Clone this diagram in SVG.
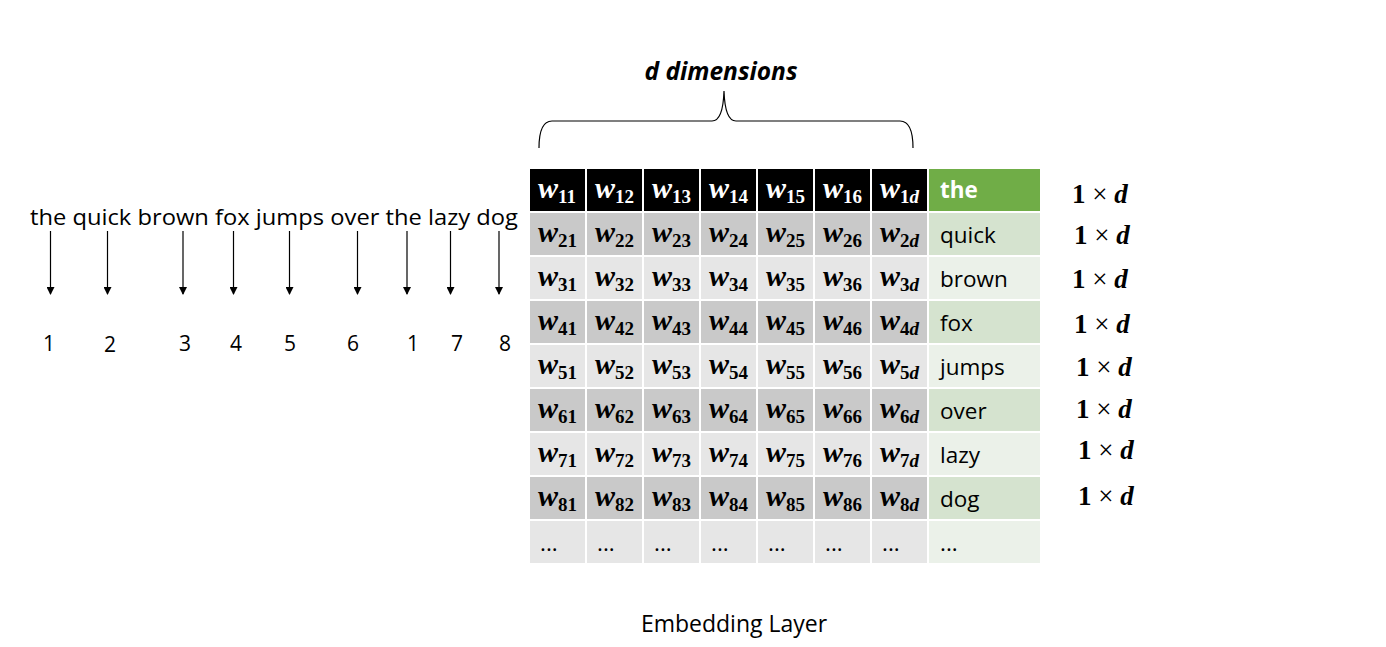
<svg xmlns="http://www.w3.org/2000/svg" width="1386" height="647" viewBox="0 0 1386 647">
<style>
.sent{font-family:"Open Sans","Liberation Sans",sans-serif;font-size:21px;fill:#000}
.num{font-family:"Open Sans","Liberation Sans",sans-serif;font-size:21px;fill:#000;text-anchor:middle}
.w{font-family:"Liberation Serif","DejaVu Serif",serif;font-size:30px;font-weight:bold;font-style:italic}
.sub{font-size:19px;font-style:normal}
.subd{font-size:19px;font-style:italic}
.word{font-family:"Open Sans","Liberation Sans",sans-serif;font-size:22.5px;fill:#000}
.dim{font-family:"Liberation Serif","DejaVu Serif",serif;font-size:27px;font-weight:bold;fill:#000}
.x{font-weight:normal}
.hd{fill:#000}
.g1{fill:#C9C9C9}
.g2{fill:#E6E6E6}
.n1{fill:#D5E3CF}
.n2{fill:#EBF1E9}
.arrow{stroke:#000;stroke-width:1.2;fill:none}
</style>
<defs>
<marker id="ah" markerWidth="8" markerHeight="8" refX="7" refY="4" orient="auto" markerUnits="userSpaceOnUse">
<path d="M0,0 L8,4 L0,8 Z" fill="#000"/>
</marker>
</defs>
<rect width="1386" height="647" fill="#fff"/>

<g id="sentence">
<text class="sent" x="30" y="225" textLength="488" lengthAdjust="spacingAndGlyphs">the quick brown fox jumps over the lazy dog</text>
</g>

<g id="connectors">
<line class="arrow" x1="50.5" y1="231" x2="50.5" y2="294" marker-end="url(#ah)"/>
<line class="arrow" x1="107.5" y1="231" x2="107.5" y2="294" marker-end="url(#ah)"/>
<line class="arrow" x1="183" y1="231" x2="183" y2="294" marker-end="url(#ah)"/>
<line class="arrow" x1="233.5" y1="231" x2="233.5" y2="294" marker-end="url(#ah)"/>
<line class="arrow" x1="289.5" y1="231" x2="289.5" y2="294" marker-end="url(#ah)"/>
<line class="arrow" x1="357.5" y1="231" x2="357.5" y2="294" marker-end="url(#ah)"/>
<line class="arrow" x1="407" y1="231" x2="407" y2="294" marker-end="url(#ah)"/>
<line class="arrow" x1="450.5" y1="231" x2="450.5" y2="294" marker-end="url(#ah)"/>
<line class="arrow" x1="499" y1="231" x2="499" y2="294" marker-end="url(#ah)"/>
</g>

<g id="indices">
<text class="num" x="49" y="351">1</text>
<text class="num" x="110" y="352">2</text>
<text class="num" x="185" y="351">3</text>
<text class="num" x="236" y="351">4</text>
<text class="num" x="290" y="351">5</text>
<text class="num" x="353" y="351">6</text>
<text class="num" x="413" y="351">1</text>
<text class="num" x="457" y="351">7</text>
<text class="num" x="505" y="351">8</text>
</g>

<g id="brace">
<path d="M539,148 Q539,121 552,121 L712,121 Q723,121 724,91 Q725,121 736,121 L900,121 Q913,121 913,148" fill="none" stroke="#000" stroke-width="1.2"/>
<text x="721" y="80" text-anchor="middle" font-family="'Open Sans','Liberation Sans',sans-serif" font-size="24.5" font-weight="bold" font-style="italic">d dimensions</text>
</g>

<g id="table">
<g id="row1">
<rect class="hd" x="530" y="169" width="55" height="42"/>
<rect class="hd" x="587" y="169" width="55" height="42"/>
<rect class="hd" x="644" y="169" width="55" height="42"/>
<rect class="hd" x="701" y="169" width="55" height="42"/>
<rect class="hd" x="758" y="169" width="55" height="42"/>
<rect class="hd" x="815" y="169" width="55" height="42"/>
<rect class="hd" x="872" y="169" width="55" height="42"/>
<rect x="929" y="169" width="111" height="42" fill="#70AD47"/>
<g class="w" fill="#fff">
<text x="538" y="198">w<tspan class="sub" dy="5">11</tspan></text>
<text x="595" y="198">w<tspan class="sub" dy="5">12</tspan></text>
<text x="652" y="198">w<tspan class="sub" dy="5">13</tspan></text>
<text x="709" y="198">w<tspan class="sub" dy="5">14</tspan></text>
<text x="766" y="198">w<tspan class="sub" dy="5">15</tspan></text>
<text x="823" y="198">w<tspan class="sub" dy="5">16</tspan></text>
<text x="880" y="198">w<tspan class="sub" dy="5">1</tspan><tspan class="subd">d</tspan></text>
</g>
<text x="940" y="198" font-family="'Open Sans','Liberation Sans',sans-serif" font-size="22.5" font-weight="bold" fill="#fff">the</text>
</g>

<g id="row2">
<rect class="g1" x="530" y="213" width="55" height="42"/><rect class="g1" x="587" y="213" width="55" height="42"/><rect class="g1" x="644" y="213" width="55" height="42"/><rect class="g1" x="701" y="213" width="55" height="42"/><rect class="g1" x="758" y="213" width="55" height="42"/><rect class="g1" x="815" y="213" width="55" height="42"/><rect class="g1" x="872" y="213" width="55" height="42"/>
<rect class="n1" x="929" y="213" width="111" height="42"/>
<g class="w" fill="#000">
<text x="538" y="242">w<tspan class="sub" dy="5">21</tspan></text><text x="595" y="242">w<tspan class="sub" dy="5">22</tspan></text><text x="652" y="242">w<tspan class="sub" dy="5">23</tspan></text><text x="709" y="242">w<tspan class="sub" dy="5">24</tspan></text><text x="766" y="242">w<tspan class="sub" dy="5">25</tspan></text><text x="823" y="242">w<tspan class="sub" dy="5">26</tspan></text><text x="880" y="242">w<tspan class="sub" dy="5">2</tspan><tspan class="subd">d</tspan></text>
</g>
<text class="word" x="940" y="243">quick</text>
</g>

<g id="row3">
<rect class="g2" x="530" y="257" width="55" height="42"/><rect class="g2" x="587" y="257" width="55" height="42"/><rect class="g2" x="644" y="257" width="55" height="42"/><rect class="g2" x="701" y="257" width="55" height="42"/><rect class="g2" x="758" y="257" width="55" height="42"/><rect class="g2" x="815" y="257" width="55" height="42"/><rect class="g2" x="872" y="257" width="55" height="42"/>
<rect class="n2" x="929" y="257" width="111" height="42"/>
<g class="w" fill="#000">
<text x="538" y="286">w<tspan class="sub" dy="5">31</tspan></text><text x="595" y="286">w<tspan class="sub" dy="5">32</tspan></text><text x="652" y="286">w<tspan class="sub" dy="5">33</tspan></text><text x="709" y="286">w<tspan class="sub" dy="5">34</tspan></text><text x="766" y="286">w<tspan class="sub" dy="5">35</tspan></text><text x="823" y="286">w<tspan class="sub" dy="5">36</tspan></text><text x="880" y="286">w<tspan class="sub" dy="5">3</tspan><tspan class="subd">d</tspan></text>
</g>
<text class="word" x="940" y="287">brown</text>
</g>

<g id="row4">
<rect class="g1" x="530" y="301" width="55" height="42"/><rect class="g1" x="587" y="301" width="55" height="42"/><rect class="g1" x="644" y="301" width="55" height="42"/><rect class="g1" x="701" y="301" width="55" height="42"/><rect class="g1" x="758" y="301" width="55" height="42"/><rect class="g1" x="815" y="301" width="55" height="42"/><rect class="g1" x="872" y="301" width="55" height="42"/>
<rect class="n1" x="929" y="301" width="111" height="42"/>
<g class="w" fill="#000">
<text x="538" y="330">w<tspan class="sub" dy="5">41</tspan></text><text x="595" y="330">w<tspan class="sub" dy="5">42</tspan></text><text x="652" y="330">w<tspan class="sub" dy="5">43</tspan></text><text x="709" y="330">w<tspan class="sub" dy="5">44</tspan></text><text x="766" y="330">w<tspan class="sub" dy="5">45</tspan></text><text x="823" y="330">w<tspan class="sub" dy="5">46</tspan></text><text x="880" y="330">w<tspan class="sub" dy="5">4</tspan><tspan class="subd">d</tspan></text>
</g>
<text class="word" x="940" y="331">fox</text>
</g>

<g id="row5">
<rect class="g2" x="530" y="345" width="55" height="42"/><rect class="g2" x="587" y="345" width="55" height="42"/><rect class="g2" x="644" y="345" width="55" height="42"/><rect class="g2" x="701" y="345" width="55" height="42"/><rect class="g2" x="758" y="345" width="55" height="42"/><rect class="g2" x="815" y="345" width="55" height="42"/><rect class="g2" x="872" y="345" width="55" height="42"/>
<rect class="n2" x="929" y="345" width="111" height="42"/>
<g class="w" fill="#000">
<text x="538" y="374">w<tspan class="sub" dy="5">51</tspan></text><text x="595" y="374">w<tspan class="sub" dy="5">52</tspan></text><text x="652" y="374">w<tspan class="sub" dy="5">53</tspan></text><text x="709" y="374">w<tspan class="sub" dy="5">54</tspan></text><text x="766" y="374">w<tspan class="sub" dy="5">55</tspan></text><text x="823" y="374">w<tspan class="sub" dy="5">56</tspan></text><text x="880" y="374">w<tspan class="sub" dy="5">5</tspan><tspan class="subd">d</tspan></text>
</g>
<text class="word" x="940" y="375">jumps</text>
</g>

<g id="row6">
<rect class="g1" x="530" y="389" width="55" height="42"/><rect class="g1" x="587" y="389" width="55" height="42"/><rect class="g1" x="644" y="389" width="55" height="42"/><rect class="g1" x="701" y="389" width="55" height="42"/><rect class="g1" x="758" y="389" width="55" height="42"/><rect class="g1" x="815" y="389" width="55" height="42"/><rect class="g1" x="872" y="389" width="55" height="42"/>
<rect class="n1" x="929" y="389" width="111" height="42"/>
<g class="w" fill="#000">
<text x="538" y="418">w<tspan class="sub" dy="5">61</tspan></text><text x="595" y="418">w<tspan class="sub" dy="5">62</tspan></text><text x="652" y="418">w<tspan class="sub" dy="5">63</tspan></text><text x="709" y="418">w<tspan class="sub" dy="5">64</tspan></text><text x="766" y="418">w<tspan class="sub" dy="5">65</tspan></text><text x="823" y="418">w<tspan class="sub" dy="5">66</tspan></text><text x="880" y="418">w<tspan class="sub" dy="5">6</tspan><tspan class="subd">d</tspan></text>
</g>
<text class="word" x="940" y="419">over</text>
</g>

<g id="row7">
<rect class="g2" x="530" y="433" width="55" height="42"/><rect class="g2" x="587" y="433" width="55" height="42"/><rect class="g2" x="644" y="433" width="55" height="42"/><rect class="g2" x="701" y="433" width="55" height="42"/><rect class="g2" x="758" y="433" width="55" height="42"/><rect class="g2" x="815" y="433" width="55" height="42"/><rect class="g2" x="872" y="433" width="55" height="42"/>
<rect class="n2" x="929" y="433" width="111" height="42"/>
<g class="w" fill="#000">
<text x="538" y="462">w<tspan class="sub" dy="5">71</tspan></text><text x="595" y="462">w<tspan class="sub" dy="5">72</tspan></text><text x="652" y="462">w<tspan class="sub" dy="5">73</tspan></text><text x="709" y="462">w<tspan class="sub" dy="5">74</tspan></text><text x="766" y="462">w<tspan class="sub" dy="5">75</tspan></text><text x="823" y="462">w<tspan class="sub" dy="5">76</tspan></text><text x="880" y="462">w<tspan class="sub" dy="5">7</tspan><tspan class="subd">d</tspan></text>
</g>
<text class="word" x="940" y="463">lazy</text>
</g>

<g id="row8">
<rect class="g1" x="530" y="477" width="55" height="42"/><rect class="g1" x="587" y="477" width="55" height="42"/><rect class="g1" x="644" y="477" width="55" height="42"/><rect class="g1" x="701" y="477" width="55" height="42"/><rect class="g1" x="758" y="477" width="55" height="42"/><rect class="g1" x="815" y="477" width="55" height="42"/><rect class="g1" x="872" y="477" width="55" height="42"/>
<rect class="n1" x="929" y="477" width="111" height="42"/>
<g class="w" fill="#000">
<text x="538" y="506">w<tspan class="sub" dy="5">81</tspan></text><text x="595" y="506">w<tspan class="sub" dy="5">82</tspan></text><text x="652" y="506">w<tspan class="sub" dy="5">83</tspan></text><text x="709" y="506">w<tspan class="sub" dy="5">84</tspan></text><text x="766" y="506">w<tspan class="sub" dy="5">85</tspan></text><text x="823" y="506">w<tspan class="sub" dy="5">86</tspan></text><text x="880" y="506">w<tspan class="sub" dy="5">8</tspan><tspan class="subd">d</tspan></text>
</g>
<text class="word" x="940" y="507">dog</text>
</g>

<g id="row9">
<rect class="g2" x="530" y="521" width="55" height="42"/><rect class="g2" x="587" y="521" width="55" height="42"/><rect class="g2" x="644" y="521" width="55" height="42"/><rect class="g2" x="701" y="521" width="55" height="42"/><rect class="g2" x="758" y="521" width="55" height="42"/><rect class="g2" x="815" y="521" width="55" height="42"/><rect class="g2" x="872" y="521" width="55" height="42"/>
<rect class="n2" x="929" y="521" width="111" height="42"/>
<g class="word">
<text x="540" y="551">...</text><text x="597" y="551">...</text><text x="654" y="551">...</text><text x="711" y="551">...</text><text x="768" y="551">...</text><text x="825" y="551">...</text><text x="882" y="551">...</text><text x="940" y="551">...</text>
</g>
</g>
</g>

<g id="dims" class="dim">
<text x="1072" y="203">1 <tspan class="x">×</tspan> <tspan font-style="italic">d</tspan></text>
<text x="1074" y="244">1 <tspan class="x">×</tspan> <tspan font-style="italic">d</tspan></text>
<text x="1072" y="288">1 <tspan class="x">×</tspan> <tspan font-style="italic">d</tspan></text>
<text x="1074" y="333">1 <tspan class="x">×</tspan> <tspan font-style="italic">d</tspan></text>
<text x="1076" y="376">1 <tspan class="x">×</tspan> <tspan font-style="italic">d</tspan></text>
<text x="1076" y="418">1 <tspan class="x">×</tspan> <tspan font-style="italic">d</tspan></text>
<text x="1078" y="459">1 <tspan class="x">×</tspan> <tspan font-style="italic">d</tspan></text>
<text x="1078" y="505">1 <tspan class="x">×</tspan> <tspan font-style="italic">d</tspan></text>
</g>

<g id="caption">
<text x="734" y="632" text-anchor="middle" font-family="'Open Sans','Liberation Sans',sans-serif" font-size="23">Embedding Layer</text>
</g>
</svg>
